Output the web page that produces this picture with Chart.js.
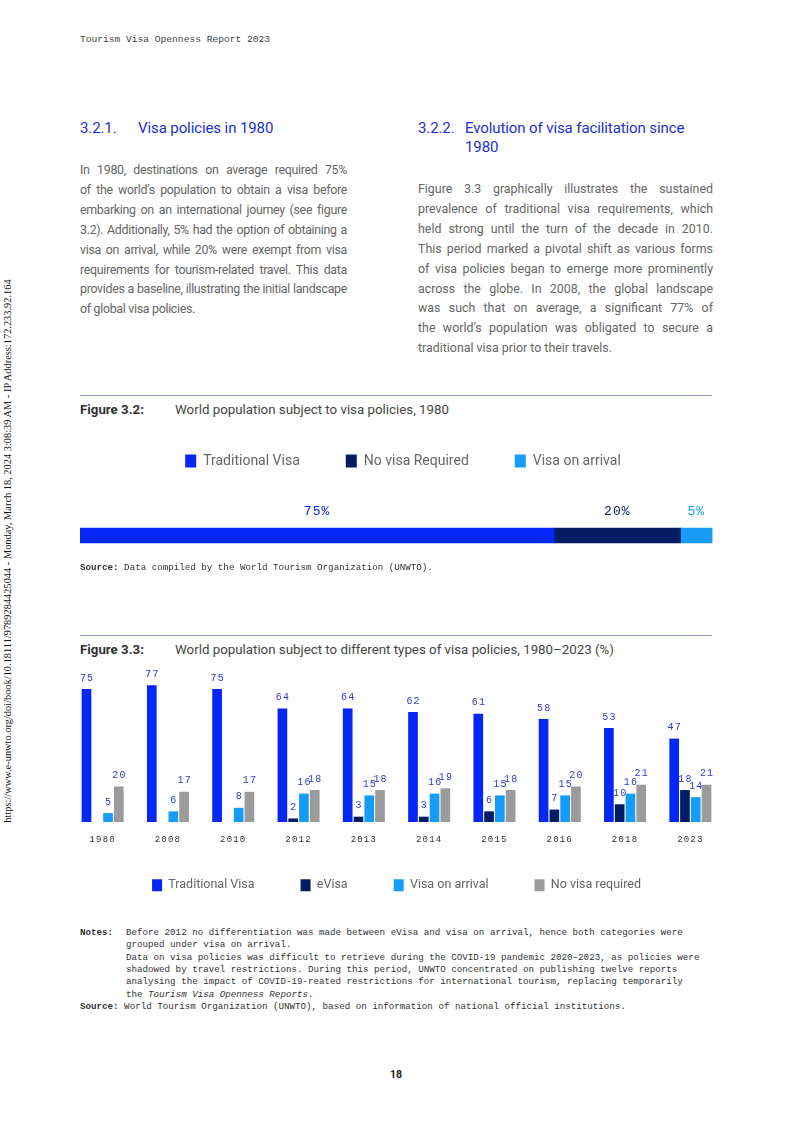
<!DOCTYPE html>
<html><head><meta charset="utf-8">
<script src="https://cdn.jsdelivr.net/npm/chart.js@4.4.0/dist/chart.umd.min.js"></script>
<style>
html,body{margin:0;padding:0;background:#fff;}
body{width:793px;height:1122px;position:relative;overflow:hidden;font-family:Roboto,"Liberation Sans",sans-serif;}
.a{position:absolute;white-space:nowrap;}
.mono{font-family:"Liberation Mono","DejaVu Sans Mono",monospace;}
.head{font-size:15px;line-height:19px;color:#1d2fd8;letter-spacing:-0.1px;}
.p{position:absolute;font-size:12.4px;line-height:19.9px;color:#666;}
.p div{text-align:justify;text-align-last:justify;white-space:nowrap;}
.p div.l{text-align-last:left;}
.rule{position:absolute;left:80px;width:632px;height:0;border-top:1px solid #8d91d2;}
.fig{font-size:13.3px;line-height:16px;color:#333;}
.note{font-size:9.2px;line-height:12.35px;color:#333;}
canvas{position:absolute;}
</style></head><body>

<div class="a" style="left:-293px;top:551px;width:600px;text-align:center;font-family:'Liberation Serif',serif;font-size:10.4px;color:#111;transform:translate(0,-50%) rotate(-90deg);transform-origin:300px 50%;">https://www.e-unwto.org/doi/book/10.18111/9789284425044 - Monday, March 18, 2024 3:08:39 AM - IP Address:172.233.92.164</div>

<div class="a mono" style="left:80px;top:34px;font-size:9.6px;color:#444;">Tourism Visa Openness Report 2023</div>

<div class="a head" style="left:80px;top:119px;">3.2.1.</div>
<div class="a head" style="left:138px;top:119px;">Visa policies in 1980</div>

<div class="p" style="left:80px;top:160px;width:267px;letter-spacing:-0.3px;">
<div>In 1980, destinations on average required 75%</div>
<div>of the world’s population to obtain a visa before</div>
<div>embarking on an international journey (see figure</div>
<div>3.2). Additionally, 5% had the option of obtaining a</div>
<div>visa on arrival, while 20% were exempt from visa</div>
<div>requirements for tourism-related travel. This data</div>
<div>provides a baseline, illustrating the initial landscape</div>
<div class="l">of global visa policies.</div>
</div>

<div class="a head" style="left:418px;top:119px;">3.2.2.</div>
<div class="a head" style="left:465px;top:119px;">Evolution of visa facilitation since<br>1980</div>

<div class="p" style="left:418px;top:179px;width:295px;">
<div>Figure 3.3 graphically illustrates the sustained</div>
<div>prevalence of traditional visa requirements, which</div>
<div>held strong until the turn of the decade in 2010.</div>
<div>This period marked a pivotal shift as various forms</div>
<div>of visa policies began to emerge more prominently</div>
<div>across the globe. In 2008, the global landscape</div>
<div>was such that on average, a significant 77% of</div>
<div>the world’s population was obligated to secure a</div>
<div class="l">traditional visa prior to their travels.</div>
</div>

<div class="rule" style="top:395px;"></div>
<div class="a fig" style="left:80px;top:402px;font-weight:700;">Figure 3.2:</div>
<div class="a fig" style="left:175px;top:402px;color:#444;">World population subject to visa policies, 1980</div>

<canvas id="c1" width="646" height="185" style="left:80px;top:408px;"></canvas>

<div class="a mono note" style="left:80px;top:562px;"><b>Source:</b> Data compiled by the World Tourism Organization (UNWTO).</div>

<div class="rule" style="top:635px;"></div>
<div class="a fig" style="left:80px;top:642px;font-weight:700;">Figure 3.3:</div>
<div class="a fig" style="left:175px;top:642px;color:#444;">World population subject to different types of visa policies, 1980–2023 (%)</div>

<canvas id="c2" width="653" height="233" style="left:70px;top:660px;"></canvas>

<div class="a mono note" style="left:80px;top:927px;"><b>Notes:</b></div>
<div class="a mono note" style="left:126px;top:927px;">Before 2012 no differentiation was made between eVisa and visa on arrival, hence both categories were<br>grouped under visa on arrival.<br>Data on visa policies was difficult to retrieve during the COVID-19 pandemic 2020–2023, as policies were<br>shadowed by travel restrictions. During this period, UNWTO concentrated on publishing twelve reports<br>analysing the impact of COVID-19-reated restrictions for international tourism, replacing temporarily<br>the <i>Tourism Visa Openness Reports</i>.</div>
<div class="a mono note" style="left:80px;top:1001px;"><b>Source:</b> World Tourism Organization (UNWTO), based on information of national official institutions.</div>

<div class="a" style="left:396px;top:1068px;transform:translateX(-50%);font-size:10.5px;font-weight:700;color:#222;">18</div>

<script>
// ---- Figure 3.2 data ----
const policies1980 = ['Traditional Visa', 'No visa Required', 'Visa on arrival'];
const shares1980 = [75, 20, 5];

// ---- Figure 3.3 data ----
const years = ['1980', '2008', '2010', '2012', '2013', '2014', '2015', '2016', '2018', '2023'];
const traditionalVisa = [75, 77, 75, 64, 64, 62, 61, 58, 53, 47];
const eVisa = [null, null, null, 2, 3, 3, 6, 7, 10, 18];
const visaOnArrival = [5, 6, 8, 16, 15, 16, 15, 15, 16, 14];
const noVisaRequired = [20, 17, 17, 18, 18, 19, 18, 20, 21, 21];
const seriesNames = ['Traditional Visa', 'eVisa', 'Visa on arrival', 'No visa required'];

const C_TRAD = '#0527f5', C_EVISA = '#041c63', C_VOA = '#169cf6', C_NVR = '#9b9b9b';

const shareLabels = {
  id: 'shareLabels',
  afterDatasetsDraw(chart) {
    const ctx = chart.ctx;
    ctx.save();
    ctx.font = '13px "Liberation Mono"';
    ctx.letterSpacing = '1px';
    ctx.textAlign = 'center';
    ctx.textBaseline = 'middle';
    chart.data.datasets.forEach((ds, i) => {
      chart.getDatasetMeta(i).data.forEach((el, j) => {
        const v = ds.data[j];
        if (v == null) return;
        ctx.fillStyle = ds.backgroundColor;
        ctx.fillText(v + '%', (el.x + el.base) / 2, el.y - 24);
      });
    });
    ctx.restore();
    ctx.letterSpacing = '0px';
  }
};

new Chart(document.getElementById('c1'), {
  type: 'bar',
  data: {
    labels: ['1980'],
    datasets: policies1980.map((name, i) => ({
      label: name,
      data: [shares1980[i]],
      backgroundColor: [C_TRAD, C_EVISA, C_VOA][i],
      borderWidth: 0,
      barThickness: 15
    }))
  },
  options: {
    indexAxis: 'y',
    responsive: false,
    animation: false,
    devicePixelRatio: 1,
    layout: { padding: 0 },
    scales: {
      x: { stacked: true, display: false, min: 0, max: 102.2 },
      y: { stacked: true, display: false }
    },
    plugins: {
      legend: {
        position: 'top',
        labels: { boxWidth: 11, boxHeight: 13, padding: 46, color: '#666', font: { family: 'Roboto', size: 14 } }
      },
      tooltip: { enabled: false }
    }
  },
  plugins: [shareLabels]
});

const barLabels = {
  id: 'barLabels',
  afterDatasetsDraw(chart) {
    const ctx = chart.ctx;
    ctx.letterSpacing = '1.2px';
    ctx.save();
    ctx.font = '10px "Liberation Mono"';
    ctx.textAlign = 'center';
    ctx.textBaseline = 'middle';
    ctx.fillStyle = '#2b3bd1';
    chart.data.datasets.forEach((ds, i) => {
      chart.getDatasetMeta(i).data.forEach((el, j) => {
        const v = ds.data[j];
        if (v == null) return;
        ctx.fillText(String(v), el.x + 0.6, el.y - 11);
      });
    });
    ctx.restore();
  },
  afterDraw(chart) { chart.ctx.letterSpacing = '0px'; }
};

new Chart(document.getElementById('c2'), {
  type: 'bar',
  data: {
    labels: years,
    datasets: [traditionalVisa, eVisa, visaOnArrival, noVisaRequired].map((d, i) => ({
      label: seriesNames[i],
      data: d,
      backgroundColor: [C_TRAD, C_EVISA, C_VOA, C_NVR][i],
      borderWidth: 0,
      barPercentage: 0.9,
      categoryPercentage: 0.66
    }))
  },
  options: {
    responsive: false,
    animation: false,
    devicePixelRatio: 1,
    layout: { padding: { top: 20 } },
    scales: {
      x: {
        grid: { display: false, drawTicks: false },
        border: { display: false },
        ticks: { z: 1, padding: 12, color: '#333', font: { family: 'Liberation Mono', size: 9 } },
        afterFit(scale) {
          scale.height = 11;
          scale._computeLabelArea = function () { return undefined; };
        }
      },
      y: { display: false, min: 0, max: 80 }
    },
    plugins: {
      legend: {
        position: 'bottom',
        maxHeight: 60,
        labels: { boxWidth: 10, boxHeight: 12, padding: 46, color: '#666', font: { family: 'Roboto', size: 12.5 } }
      },
      tooltip: { enabled: false }
    }
  },
  plugins: [barLabels]
});
</script>
</body></html>
